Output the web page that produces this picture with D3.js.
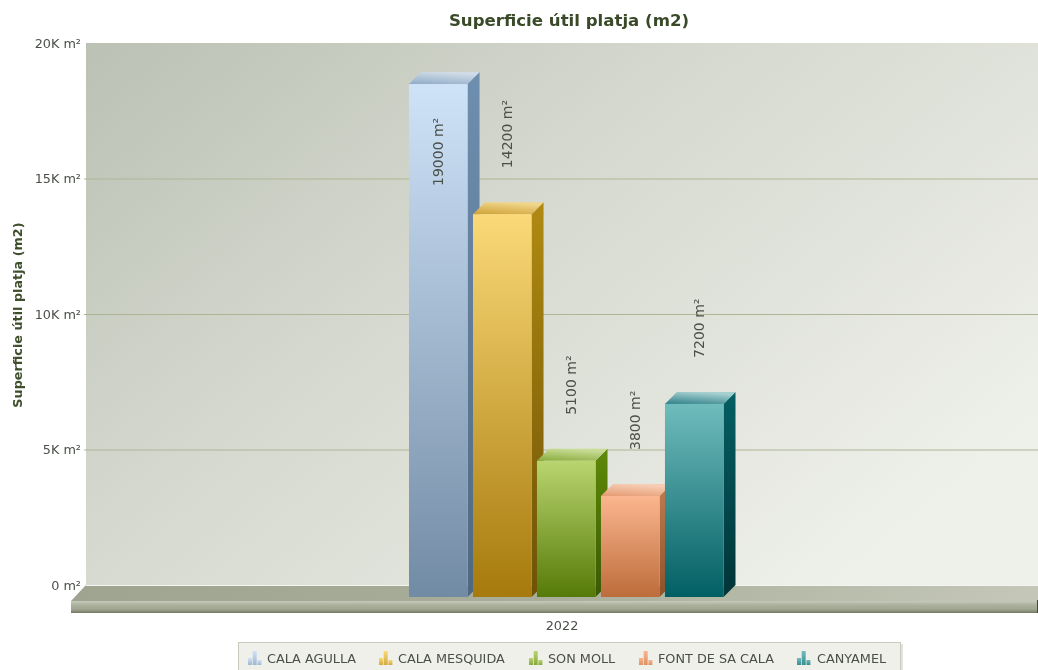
<!DOCTYPE html>
<html><head><meta charset="utf-8">
<script src="https://cdn.jsdelivr.net/npm/d3@7"></script>
<style>html,body{margin:0;padding:0;background:#fff;overflow:hidden}svg{display:block;filter:blur(0.35px)}text{font-family:"DejaVu Sans",sans-serif}</style>
</head><body><svg id="c" width="1038" height="670"></svg>
<script>
const chartTitle = "Superficie útil platja (m2)";
const yAxisTitle = "Superficie útil platja (m2)";
const category = "2022";
const seriesNames = ["CALA AGULLA","CALA MESQUIDA","SON MOLL","FONT DE SA CALA","CANYAMEL"];
const seriesValues = [19000,14200,5100,3800,7200];
const yTicks = [0,5000,10000,15000,20000];
const yTickLabels = ["0 m²","5K m²","10K m²","15K m²","20K m²"];
const frontTop = ["#cfe3f8","#fbd978","#b9d56f","#fbb68f","#70bcbd"];
const frontBottom = ["#728ba4","#a67a0c","#567a08","#bd6c3a","#015f63"];
const sideColor = ["#6f8fb0","#b08a12","#5f8a08","#c07c50","#045f63"];
const sideBottom = ["#4f6880","#6e5206","#3a5804","#8e5228","#013438"];
const topFrom = ["#8fabc8","#cfa237","#88ab3a","#e59a72","#2f8089"];
const topTo = ["#cfdbe6","#f0d58a","#c8dc96","#f6cdb4","#a6d0d0"];
const legendX = [248,379,529,639,797];
const legendTextX = [267,398,548,658,817];

const svg = d3.select("#c");
const defs = svg.append("defs");
const depth = 12, frontDrop = 14;
const y = d3.scaleLinear().domain([0,20000]).range([585,43]);
const x = d3.scaleBand().domain(seriesNames).range([409,723.5]).paddingInner(0.085).paddingOuter(0);
function grad(id,x1,y1,x2,y2,stops){
  const g=defs.append("linearGradient").attr("id",id).attr("x1",x1).attr("y1",y1).attr("x2",x2).attr("y2",y2);
  stops.forEach(s=>g.append("stop").attr("offset",s[0]).attr("stop-color",s[1]));
}
grad("wall",0,0,1,0.7,[[0,"#bbc1b5"],[0.45,"#d6d9cf"],[1,"#eef0ea"]]);
grad("floorTop",0,0,1,0.02,[[0,"#9fa491"],[0.5,"#a9ae9a"],[1,"#c4c7b8"]]);
grad("floorFront",0,0,0,1,[[0,"#c6cabb"],[0.35,"#aab09c"],[0.7,"#a0a591"],[1,"#747963"]]);
seriesNames.forEach((n,i)=>{
  grad("f"+i,0,0,0,1,[[0,frontTop[i]],[1,frontBottom[i]]]);
  grad("s"+i,0,0,0,1,[[0,sideColor[i]],[1,sideBottom[i]]]);
  grad("t"+i,0,1,0.4,0,[[0,topFrom[i]],[1,topTo[i]]]);
  grad("lg"+i,0,0,0,1,[[0,frontTop[i]],[1,d3.interpolateRgb(frontTop[i],frontBottom[i])(0.5)]]);
});

// back wall
svg.append("rect").attr("x",86).attr("y",y(20000)).attr("width",952).attr("height",y(0)-y(20000)).attr("fill","url(#wall)");
// grid
svg.append("g").selectAll("line").data(yTicks.slice(1,4)).join("line")
  .attr("x1",84).attr("x2",1038).attr("y1",d=>y(d)+.5).attr("y2",d=>y(d)+.5)
  .attr("stroke","#aeb597").attr("stroke-width",1);
// y axis
const yAxis = d3.axisLeft(y).tickValues(yTicks).tickSize(0).tickPadding(5).tickFormat((d,i)=>yTickLabels[i]);
const ga = svg.append("g").attr("transform","translate(86,0)").call(yAxis);
ga.select(".domain").remove();
ga.selectAll("text").attr("font-size",12.8).attr("fill","#4a4f48").attr("font-family","DejaVu Sans");
// floor
svg.append("path").attr("d",d3.line()([[86,585],[1038,585],[1038,601],[71,601]])+"Z").attr("fill","url(#floorTop)");
svg.append("rect").attr("x",71).attr("y",601).attr("width",967).attr("height",12).attr("fill","url(#floorFront)");
svg.append("line").attr("x1",86).attr("x2",1038).attr("y1",585.5).attr("y2",585.5).attr("stroke","#f4f5f0");
svg.append("line").attr("x1",1037.5).attr("x2",1037.5).attr("y1",600).attr("y2",613).attr("stroke","#444a38");

// bars
const bars = svg.append("g").selectAll("g").data(seriesValues).join("g");
const L=(d,i)=>x(seriesNames[i]), W=x.bandwidth();
const T=d=>y(d)+frontDrop, B=y(0)+depth;
bars.append("path").attr("fill",(d,i)=>`url(#s${i})`)
  .attr("d",(d,i)=>{const r=L(d,i)+W;return d3.line()([[r,T(d)],[r+depth,T(d)-depth],[r+depth,B-depth],[r,B]])+"Z";});
bars.append("path").attr("fill",(d,i)=>`url(#t${i})`)
  .attr("d",(d,i)=>{const l=L(d,i),r=l+W;return d3.line()([[l,T(d)],[r,T(d)],[r+depth,T(d)-depth],[l+depth,T(d)-depth]])+"Z";});
bars.append("rect").attr("x",L).attr("y",T).attr("width",W).attr("height",d=>B-T(d)).attr("fill",(d,i)=>`url(#f${i})`);

// data labels
svg.append("g").selectAll("text").data(seriesValues).join("text")
  .attr("transform",(d,i)=>{
    const inside = T(d)-45-70 < y(20000);
    const cx=L(d,i)+W/2+(inside?0:4.5), by=inside?186:T(d)-46;
    return `translate(${cx+5},${by}) rotate(-90)`;
  })
  .attr("font-size",14).attr("fill","#4b5049").text(d=>d+" m²");

// titles
svg.append("text").attr("x",569).attr("y",26).attr("text-anchor","middle").attr("font-size",16.6).attr("font-weight","bold").attr("fill","#3a4a28").text(chartTitle);
svg.append("text").attr("transform","translate(22,315) rotate(-90)").attr("text-anchor","middle").attr("font-size",12.8).attr("font-weight","bold").attr("fill","#3f4f2c").text(yAxisTitle);
svg.append("text").attr("x",562).attr("y",630).attr("text-anchor","middle").attr("font-size",12.8).attr("fill","#4a4f48").text(category);

// legend
svg.append("rect").attr("x",238.5).attr("y",642.5).attr("width",662).attr("height",30).attr("fill","#eff0ea").attr("stroke","#c8cbbb");
svg.append("rect").attr("x",901).attr("y",644).attr("width",2).attr("height",26).attr("fill","#e2e3dd");
const lg = svg.append("g").selectAll("g").data(seriesNames).join("g").attr("transform",(d,i)=>`translate(${legendX[i]},0)`);
[[0,658],[4.7,651],[9.4,660]].forEach(b=>{
  lg.append("rect").attr("x",b[0]).attr("y",b[1]).attr("width",4).attr("height",665-b[1]).attr("fill",(d,i)=>`url(#lg${i})`);
});
svg.append("g").selectAll("text").data(seriesNames).join("text")
  .attr("x",(d,i)=>legendTextX[i]).attr("y",663).attr("font-size",12.8).attr("fill","#4a4f48").text(d=>d);
</script></body></html>
